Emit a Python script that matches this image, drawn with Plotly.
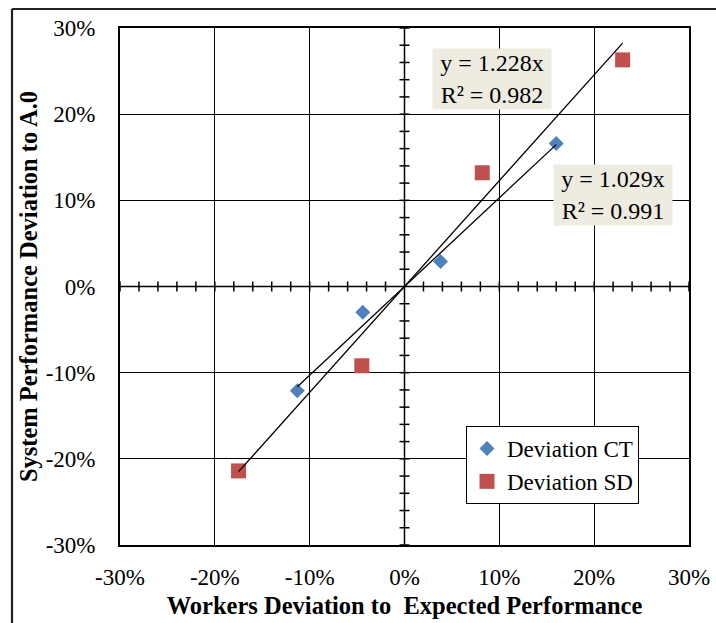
import numpy as np
import plotly.graph_objects as go

# Worker deviation (x) vs. system performance deviation (y), as fractions
ct_x = [-0.113, -0.044, 0.038, 0.160]
ct_y = [-0.121, -0.030, 0.029, 0.166]
sd_x = [-0.175, -0.045, 0.082, 0.230]
sd_y = [-0.214, -0.092, 0.132, 0.263]

# Fitted slopes (through origin) and R² from the regression labels
ct_slope, ct_r2 = 1.029, 0.991
sd_slope, sd_r2 = 1.228, 0.982

axis_ticks = [-0.3, -0.2, -0.1, 0.0, 0.1, 0.2, 0.3]
tick_text = ["-30%", "-20%", "-10%", "0%", "10%", "20%", "30%"]

FONT = "Liberation Serif, Times New Roman, serif"
W, H = 716, 623
ML, MR, MT, MB = 120, 27, 28, 78

fig = go.Figure()

fig.add_trace(go.Scatter(
    x=ct_x, y=ct_y, mode="markers", name="Deviation CT",
    marker=dict(symbol="diamond", size=11.5, color="#4F81BD"),
))
fig.add_trace(go.Scatter(
    x=sd_x, y=sd_y, mode="markers", name="Deviation SD",
    marker=dict(symbol="square", size=15, color="#C0504D"),
))

# Linear trend lines through the origin, spanning each series' x range
for xs, k in [(ct_x, ct_slope), (sd_x, sd_slope)]:
    lx = [min(xs), max(xs)]
    fig.add_trace(go.Scatter(
        x=lx, y=[k * v for v in lx], mode="lines", showlegend=False,
        line=dict(color="black", width=1.3), hoverinfo="skip",
    ))

shapes = []
# Zero axes with cross ticks every 2%
shapes.append(dict(type="line", xref="x", yref="y", x0=-0.3, x1=0.3, y0=0, y1=0,
                   line=dict(color="black", width=1.5), layer="below"))
shapes.append(dict(type="line", xref="x", yref="y", x0=0, x1=0, y0=-0.3, y1=0.3,
                   line=dict(color="black", width=1.5), layer="below"))
minor = np.round(np.arange(-0.3, 0.3001, 0.02), 3)
for t in minor:
    if abs(t) < 1e-9:
        continue
    shapes.append(dict(type="line", xref="x", yref="y", x0=t, x1=t,
                       y0=-5 * 0.6 / (H - MT - MB), y1=5 * 0.6 / (H - MT - MB),
                       line=dict(color="black", width=1.5), layer="below"))
    shapes.append(dict(type="line", xref="x", yref="y", y0=t, y1=t,
                       x0=-5 * 0.6 / (W - ML - MR), x1=5 * 0.6 / (W - ML - MR),
                       line=dict(color="black", width=1.5), layer="below"))


def px_x(p):
    return (p - ML) / (W - ML - MR)


def px_y(p):
    return (H - MB - p) / (H - MT - MB)


# Chart frame (left and top edges)
shapes.append(dict(type="line", xref="paper", yref="paper",
                   x0=px_x(12), x1=px_x(12), y0=px_y(9), y1=px_y(640),
                   line=dict(color="#222222", width=2.2)))
shapes.append(dict(type="line", xref="paper", yref="paper",
                   x0=px_x(12), x1=px_x(730), y0=px_y(9), y1=px_y(9),
                   line=dict(color="#222222", width=2.2)))

annotations = [
    dict(xref="paper", yref="paper", x=px_x(492), y=px_y(79),
         text=f"y = {sd_slope:.3f}x<br>R² = {sd_r2:.3f}", showarrow=False,
         font=dict(family=FONT, size=24, color="black"), bgcolor="#EEECE1",
         width=114, height=56, borderpad=2, xanchor="center", yanchor="middle"),
    dict(xref="paper", yref="paper", x=px_x(613), y=px_y(195.5),
         text=f"y = {ct_slope:.3f}x<br>R² = {ct_r2:.3f}", showarrow=False,
         font=dict(family=FONT, size=24, color="black"), bgcolor="#EEECE1",
         width=114, height=56, borderpad=2, xanchor="center", yanchor="middle"),
]

axis_common = dict(
    range=[-0.3, 0.3], tickvals=axis_ticks, ticktext=tick_text,
    showgrid=True, gridcolor="black", gridwidth=1.3,
    showline=True, linecolor="black", linewidth=1.8, mirror=True,
    zeroline=False, ticks="", automargin=False,
    tickfont=dict(family=FONT, size=23, color="black"),
)

fig.update_layout(
    width=W, height=H,
    font=dict(family=FONT, color="black"),
    margin=dict(l=ML, r=MR, t=MT, b=MB),
    paper_bgcolor="white", plot_bgcolor="white",
    xaxis=dict(**axis_common, ticklabelstandoff=10,
               title=dict(text="<b>Workers Deviation to&nbsp; Expected Performance</b>",
                          font=dict(family=FONT, size=24.5, color="black"),
                          standoff=8)),
    yaxis=dict(**axis_common, ticklabelstandoff=18,
               title=dict(text="<b>System Performance Deviation to A.0</b>",
                          font=dict(family=FONT, size=24.5, color="black"),
                          standoff=1)),
    shapes=shapes,
    annotations=annotations,
    legend=dict(x=px_x(466), y=px_y(426), xanchor="left", yanchor="top",
                bgcolor="white", bordercolor="black", borderwidth=1,
                font=dict(family=FONT, size=23, color="black"),
                itemwidth=30, tracegroupgap=0),
    showlegend=True,
)

fig.write_html("out.html")
